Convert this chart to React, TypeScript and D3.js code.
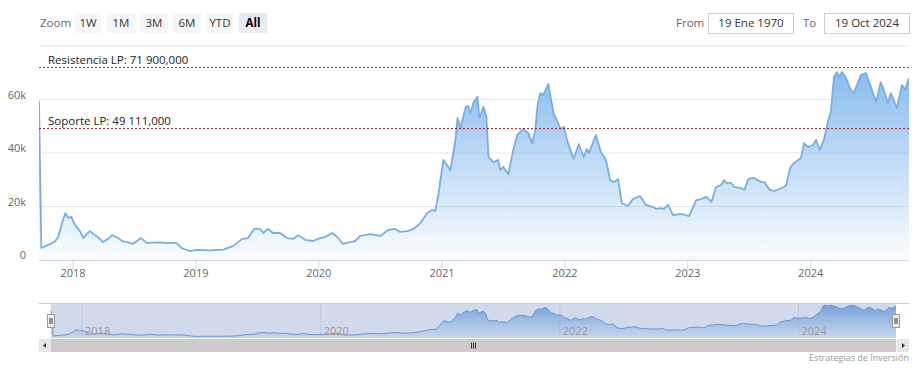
import React from "react";
import * as d3 from "d3";

// precio semanal aproximado (USD)
const dates = [
  "2017-09-22", "2017-09-29", "2017-10-11", "2017-10-26", "2017-11-09", "2017-11-18", "2017-11-30", "2017-12-09", "2017-12-18", "2017-12-27",
  "2018-01-02", "2018-01-14", "2018-01-23", "2018-02-01", "2018-02-13", "2018-02-21", "2018-03-07", "2018-03-19", "2018-04-01", "2018-04-16",
  "2018-04-27", "2018-05-15", "2018-05-27", "2018-06-10", "2018-06-28", "2018-07-22", "2018-08-09", "2018-08-24", "2018-09-16", "2018-10-01",
  "2018-11-03", "2018-11-21", "2018-12-14", "2019-01-04", "2019-02-12", "2019-03-23", "2019-04-21", "2019-05-18", "2019-06-05", "2019-06-23",
  "2019-07-11", "2019-07-20", "2019-08-03", "2019-08-18", "2019-09-08", "2019-09-29", "2019-10-17", "2019-11-01", "2019-11-22", "2019-12-15",
  "2020-01-05", "2020-01-20", "2020-02-10", "2020-02-25", "2020-03-13", "2020-04-03", "2020-04-18", "2020-05-03", "2020-06-02", "2020-07-02",
  "2020-07-25", "2020-08-15", "2020-08-30", "2020-09-20", "2020-10-08", "2020-10-29", "2020-11-18", "2020-12-03", "2020-12-12", "2020-12-21",
  "2021-01-05", "2021-01-26", "2021-02-10", "2021-02-16", "2021-02-25", "2021-03-12", "2021-03-20", "2021-03-26", "2021-04-04", "2021-04-16",
  "2021-04-22", "2021-05-04", "2021-05-13", "2021-05-19", "2021-06-03", "2021-06-17", "2021-06-23", "2021-07-02", "2021-07-17", "2021-07-29",
  "2021-08-12", "2021-08-30", "2021-09-14", "2021-09-26", "2021-10-05", "2021-10-11", "2021-10-20", "2021-10-29", "2021-11-13", "2021-11-28",
  "2021-12-19", "2021-12-29", "2022-01-10", "2022-01-27", "2022-02-11", "2022-02-26", "2022-03-07", "2022-03-13", "2022-04-03", "2022-04-18",
  "2022-05-03", "2022-05-15", "2022-05-27", "2022-06-08", "2022-06-19", "2022-07-07", "2022-07-22", "2022-08-12", "2022-08-30", "2022-09-20",
  "2022-09-29", "2022-10-13", "2022-10-22", "2022-11-03", "2022-11-18", "2022-12-12", "2023-01-05", "2023-01-26", "2023-02-10", "2023-02-25",
  "2023-03-12", "2023-03-26", "2023-04-10", "2023-04-19", "2023-04-25", "2023-05-10", "2023-05-19", "2023-06-09", "2023-06-18", "2023-06-30",
  "2023-07-15", "2023-08-08", "2023-08-17", "2023-09-01", "2023-09-16", "2023-10-13", "2023-10-20", "2023-11-01", "2023-11-12", "2023-12-03",
  "2023-12-12", "2023-12-24", "2024-01-08", "2024-01-17", "2024-01-28", "2024-02-09", "2024-02-21", "2024-03-01", "2024-03-10", "2024-03-19",
  "2024-03-25", "2024-04-03", "2024-04-15", "2024-04-29", "2024-05-08", "2024-05-29", "2024-06-13", "2024-06-28", "2024-07-13", "2024-07-27",
  "2024-08-05", "2024-08-17", "2024-08-26", "2024-09-13", "2024-09-28", "2024-10-07", "2024-10-19",
];

const prices = [
  59400, 4500, 5200, 6000, 7100, 8600, 14000, 17500, 15700, 16200,
  14200, 12000, 10500, 8200, 10000, 10800, 9300, 8200, 6700, 8000,
  9300, 8200, 7100, 6700, 6000, 8200, 6300, 6500, 6600, 6400,
  6400, 4400, 3300, 3800, 3600, 3900, 5200, 7800, 8200, 11600,
  11600, 10100, 11600, 10100, 10100, 8200, 7900, 9300, 7500, 7100,
  8200, 8600, 10100, 8600, 6000, 6700, 7100, 9000, 9700, 9000,
  11200, 11600, 10500, 10800, 11600, 13800, 17600, 18700, 18300, 24300,
  37400, 33600, 44900, 53100, 49300, 57200, 57600, 54800, 58700, 61000,
  53100, 57200, 53500, 38500, 36600, 37400, 33600, 34800, 32100, 39600,
  46700, 49000, 47500, 43700, 48600, 57200, 62400, 61700, 65800, 55000,
  49000, 49700, 43700, 37800, 43300, 38500, 41500, 40000, 46700, 40400,
  37400, 29900, 29100, 30300, 21300, 20200, 22800, 23900, 20600, 19800,
  19100, 19400, 19100, 20600, 16800, 17200, 16400, 22400, 22800, 23600,
  21700, 27300, 28000, 29900, 28800, 28800, 27300, 26900, 26200, 30300,
  30700, 29100, 29100, 26200, 25800, 27300, 28000, 34400, 36300, 38100,
  43700, 42200, 43000, 44900, 41100, 44900, 51600, 55400, 68400, 70300,
  68400, 70300, 68000, 63600, 62400, 69100, 69900, 64700, 59100, 66500,
  63600, 58700, 62400, 56800, 65400, 63600, 68000,
];

const yTicks = [0, 20000, 40000, 60000, 80000];
const yTickLabels = ["0", "20k", "40k", "60k", ""];
const xYears = [2018, 2019, 2020, 2021, 2022, 2023, 2024];
const navYears = [2018, 2020, 2022, 2024];
const zoomButtons = ["1W", "1M", "3M", "6M", "YTD", "All"];
const plotLineLabels = ["Resistencia LP: 71 900,000", "Soporte LP: 49 111,000"];
const plotLineValues = [71900, 49111];
const plotLineColors = ["#1b6b1b", "#8b1c1c"];

const W = 922;
const H = 371;
const FONT = "'Open Sans', sans-serif";

export default function App() {
  const parse = d3.timeParse("%Y-%m-%d");
  const data = dates.map((d, i) => ({ date: parse(d) as Date, value: prices[i] }));
  const ext = d3.extent(data, d => d.date) as [Date, Date];

  // área principal
  const x = d3.scaleTime().domain(ext).range([39, 909]);
  const y = d3.scaleLinear().domain([0, 80000]).range([260, 46]);

  // navegador
  const nx = d3.scaleTime().domain(ext).range([51, 896]);
  const ny = d3.scaleLinear().domain([0, 75000]).range([338, 303]);

  const area = d3.area<{ date: Date; value: number }>()
    .x(d => x(d.date))
    .y0(y(0))
    .y1(d => y(d.value));
  const line = d3.line<{ date: Date; value: number }>()
    .x(d => x(d.date))
    .y(d => y(d.value));
  const navArea = d3.area<{ date: Date; value: number }>()
    .x(d => nx(d.date))
    .y0(338)
    .y1(d => ny(Math.min(d.value, 75000)));
  const navLine = d3.line<{ date: Date; value: number }>()
    .x(d => nx(d.date))
    .y(d => ny(Math.min(d.value, 75000)));

  const yearX = (yr: number) => x(new Date(yr, 0, 1));
  const navYearX = (yr: number) => nx(new Date(yr, 0, 1)) - 2;

  return (
    <svg
      width={W}
      height={H}
      style={{ position: "absolute", left: 0, top: 0, background: "#fff", fontFamily: FONT }}
    >
      <defs>
        <linearGradient id="mainFill" x1="0" y1="0" x2="0" y2="1">
          <stop offset="0" stopColor="#7cb5ec" stopOpacity={0.9} />
          <stop offset="1" stopColor="#7cb5ec" stopOpacity={0.03} />
        </linearGradient>
        <linearGradient id="navFill" x1="0" y1="0" x2="0" y2="1">
          <stop offset="0" stopColor="#6fa3e0" stopOpacity={0.9} />
          <stop offset="1" stopColor="#7cb5ec" stopOpacity={0.1} />
        </linearGradient>
        <clipPath id="plotClip">
          <rect x={39} y={40} width={870} height={220} />
        </clipPath>
      </defs>

      {/* selector de rango */}
      <text x={40} y={27} fontSize={11.5} fill="#666">Zoom</text>
      {zoomButtons.map((b, i) => {
        const bx = 74 + i * 33;
        const sel = b === "All";
        return (
          <g key={b}>
            <rect x={bx} y={13} width={28} height={20} fill={sel ? "#e6ebf5" : "#f7f7f7"} />
            <text
              x={bx + 14}
              y={27}
              textAnchor="middle"
              fontSize={11.5}
              fill={sel ? "#000" : "#333"}
              fontWeight={sel ? 700 : 400}
            >
              {b}
            </text>
          </g>
        );
      })}
      <text x={676} y={27} fontSize={11.5} fill="#666">From</text>
      <rect x={708.5} y={13.5} width={85} height={20} fill="#fff" stroke="#cccccc" />
      <text x={751} y={27} textAnchor="middle" fontSize={11.5} fill="#333">19 Ene 1970</text>
      <text x={803} y={27} fontSize={11.5} fill="#666">To</text>
      <rect x={824.5} y={13.5} width={85} height={20} fill="#fff" stroke="#cccccc" />
      <text x={867} y={27} textAnchor="middle" fontSize={11.5} fill="#333">19 Oct 2024</text>

      {/* rejilla y eje Y */}
      {yTicks.map((t, i) => (
        <g key={t}>
          {t > 0 && (
            <line x1={39} x2={909} y1={y(t)} y2={y(t)} stroke="#e6e6e6" strokeWidth={1} />
          )}
          {yTickLabels[i] && (
            <text x={26} y={y(t) - 1} textAnchor="end" fontSize={11} fill="#666">
              {yTickLabels[i]}
            </text>
          )}
        </g>
      ))}

      {/* serie */}
      <g clipPath="url(#plotClip)">
        <path d={area(data) as string} fill="url(#mainFill)" />
        <path d={line(data) as string} fill="none" stroke="#78aee6" strokeWidth={1.8} strokeLinejoin="round" />
      </g>

      {/* líneas de resistencia y soporte */}
      {plotLineValues.map((v, i) => (
        <g key={plotLineLabels[i]}>
          <line
            x1={39}
            x2={909}
            y1={y(v)}
            y2={y(v)}
            stroke={plotLineColors[i]}
            strokeWidth={1}
            strokeDasharray="2,2"
          />
          <text x={48} y={y(v) - 4} fontSize={11.5} fill="#222">
            {plotLineLabels[i]}
          </text>
        </g>
      ))}

      {/* eje X */}
      <line x1={39} x2={909} y1={260.5} y2={260.5} stroke="#ccd6eb" />
      {xYears.map(yr => (
        <g key={yr}>
          <line x1={yearX(yr)} x2={yearX(yr)} y1={260} y2={270} stroke="#ccd6eb" />
          <text x={yearX(yr)} y={277} textAnchor="middle" fontSize={11} fill="#666">
            {yr}
          </text>
        </g>
      ))}

      {/* navegador */}
      <rect x={51} y={303} width={845} height={35} fill="#fff" />
      {navYears.map(yr => (
        <line key={"g" + yr} x1={navYearX(yr)} x2={navYearX(yr)} y1={303} y2={338} stroke="#e6e6e6" />
      ))}
      <path d={navArea(data) as string} fill="url(#navFill)" />
      <path d={navLine(data) as string} fill="none" stroke="#6b9fd8" strokeWidth={1} />
      <rect x={51} y={303} width={845} height={35} fill="rgba(102,133,194,0.3)" />
      {navYears.map(yr => (
        <text key={"t" + yr} x={navYearX(yr) + 3} y={335} fontSize={11} fill="#999">
          {yr}
        </text>
      ))}
      <line x1={39} x2={909} y1={303.5} y2={303.5} stroke="#cccccc" />
      {[51, 896].map(hx => (
        <g key={hx}>
          <rect x={hx - 3.5} y={314.5} width={7} height={13} fill="#f2f2f2" stroke="#999" />
          <line x1={hx - 1} x2={hx - 1} y1={318} y2={324} stroke="#333" />
          <line x1={hx + 1} x2={hx + 1} y1={318} y2={324} stroke="#333" />
        </g>
      ))}

      {/* barra de desplazamiento */}
      <rect x={39} y={339} width={870} height={13} fill="#f2f2f2" />
      <rect x={51} y={339} width={845} height={13} fill="#cccccc" />
      <rect x={39} y={339} width={12} height={13} fill="#e6e6e6" />
      <rect x={897} y={339} width={12} height={13} fill="#e6e6e6" />
      <path d="M46,343 L46,348 L43,345.5 Z" fill="#333" />
      <path d="M902,343 L902,348 L905,345.5 Z" fill="#333" />
      {[-2, 0, 2].map(o => (
        <line key={o} x1={473.5 + o} x2={473.5 + o} y1={342.5} y2={348.5} stroke="#333" />
      ))}

      <text x={909} y={361} textAnchor="end" fontSize={9} fill="#999">
        Estrategias de Inversión
      </text>
    </svg>
  );
}
